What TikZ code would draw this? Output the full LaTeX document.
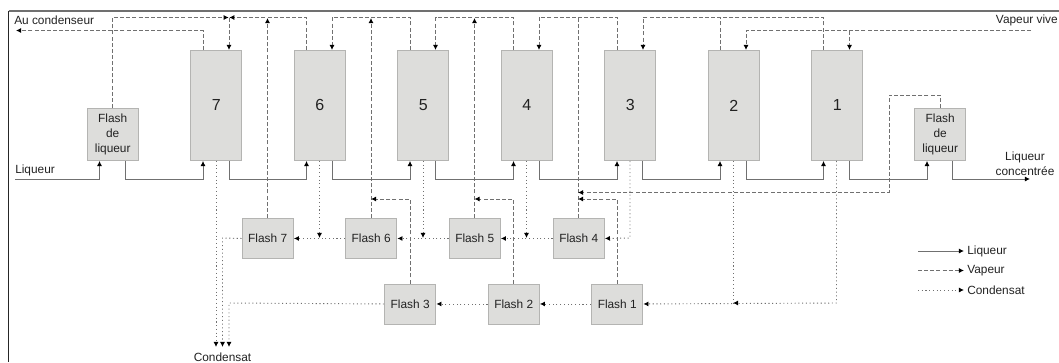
\documentclass[tikz,border=0pt]{standalone}
\usepackage{fontspec}
\setmainfont{Liberation Sans}
\usetikzlibrary{arrows.meta}
\definecolor{boxfill}{HTML}{DDDDDB}
\definecolor{boxline}{HTML}{B4B4B2}
\definecolor{linegray}{HTML}{707070}
\definecolor{txtc}{HTML}{222222}
\tikzset{
 x=0.75pt,y=-0.75pt,
 every node/.style={font=\fontsize{8.9pt}{11pt}\selectfont,text=txtc,inner sep=0pt},
 proc/.style={draw=boxline,fill=boxfill,line width=0.7pt,anchor=north west,align=center},
 effet/.style={proc,minimum width=38.6pt,minimum height=82.5pt,font=\fontsize{12pt}{14pt}\selectfont},
 flashb/.style={proc,minimum width=38.6pt,minimum height=30pt},
 flashl/.style={proc,minimum width=38.6pt,minimum height=39pt},
 tip/.style={-{Latex[length=3.8pt,width=3.8pt,black]}},
 liq/.style={draw=linegray,line width=0.7pt},
 vap/.style={draw=linegray,line width=0.7pt,dash pattern=on 3pt off 1.6pt},
 con/.style={draw=linegray,line width=0.7pt,dash pattern=on 0.8pt off 2pt},
 lbl/.style={anchor=west},
 frameline/.style={draw=linegray,line width=1pt},
 frameleft/.style={draw=black!85,line width=0.9pt},
}
\begin{document}
\begin{tikzpicture}
\useasboundingbox (0,0) rectangle (1059,362);
% frame
\draw[frameline] (1059,11) -- (8.5,11);
\draw[frameleft] (8.5,10.5) -- (8.5,362);

% evaporators
\node[effet] (e7) at (190,50) {7};
\node[effet] (e6) at (293.5,50) {6};
\node[effet] (e5) at (397,50) {5};
\node[effet] (e4) at (500.5,50) {4};
\node[effet] (e3) at (604,50) {3};
\node[effet] (e2) at (707.5,50) {2};
\node[effet] (e1) at (811,50) {1};
% liquor flashes
\node[flashl] (fl) at (86.5,108) {Flash\\de\\liqueur};
\node[flashl] (fr) at (914,108) {Flash\\de\\liqueur};
% flashes
\node[flashb] (f7) at (241.5,218) {Flash 7};
\node[flashb] (f6) at (345,218) {Flash 6};
\node[flashb] (f5) at (448.5,218) {Flash 5};
\node[flashb] (f4) at (552.5,218) {Flash 4};
\node[flashb] (f3) at (384,283.5) {Flash 3};
\node[flashb] (f2) at (487.5,283.5) {Flash 2};
\node[flashb] (f1) at (591,283.5) {Flash 1};

% labels
\node[lbl] (tcond) at (14,20) {Au condenseur};
\node[anchor=east] (tvive) at (1058,20) {Vapeur vive};
\node[lbl] (tliq) at (15,170) {Liqueur};
\node[align=center] (tconc) at (1025,163.5) {Liqueur\\concentrée};
\node[anchor=center] (tcs) at (222.5,357) {Condensat};

% free-end coordinates
\coordinate (liqin) at (15,179);
\coordinate (liqout) at (1030,179);
\coordinate (vivein) at (1031,30.5);
\coordinate (condout) at (16,30.5);

% liqueur
\path[liq,tip] (liqin) -- (99.5,179) -- (fl.south -| 99.5,0);
\path[liq,tip] (fl.south -| 125.5,0) -- (125.5,179) -- (203,179) -- (e7.south -| 203,0);
\path[liq,tip] (e7.south -| 229,0) -- (229,179) -- (306.5,179) -- (e6.south -| 306.5,0);
\path[liq,tip] (e6.south -| 332,0) -- (332,179) -- (410,179) -- (e5.south -| 410,0);
\path[liq,tip] (e5.south -| 435.5,0) -- (435.5,179) -- (513.5,179) -- (e4.south -| 513.5,0);
\path[liq,tip] (e4.south -| 539,0) -- (539,179) -- (617,179) -- (e3.south -| 617,0);
\path[liq,tip] (e3.south -| 642.5,0) -- (642.5,179) -- (720,179) -- (e2.south -| 720,0);
\path[liq,tip] (e2.south -| 746,0) -- (746,179) -- (823.5,179) -- (e1.south -| 823.5,0);
\path[liq,tip] (e1.south -| 849.5,0) -- (849.5,179) -- (927,179) -- (fr.south -| 927,0);
\path[liq,tip] (fr.south -| 952.5,0) -- (952.5,179) -- (liqout);

% vapeur, top
\path[vap,tip] (fl.north -| 112.5,0) -- (112.5,17.5) -- (228.7,17.5);
\path[vap,tip] (e6.north -| 306.5,0) -- (306.5,17.5) -- (229.3,17.5);
\path[vap,tip] (229,17.5) -- (e7.north -| 229,0);
\path[vap,tip] (e7.north -| 203,0) -- (203,30.5) -- (condout);
\path[vap,tip] (f7.north -| 267.5,0) -- (267.5,18);
\path[vap,tip] (e5.north -| 410,0) -- (410,17.5) -- (332,17.5) -- (e6.north -| 332,0);
\path[vap,tip] (f6.north -| 371,0) -- (371,18);
\path[vap,tip] (e4.north -| 513.5,0) -- (513.5,17.5) -- (435.5,17.5) -- (e5.north -| 435.5,0);
\path[vap,tip] (f5.north -| 474.5,0) -- (474.5,18);
\path[vap,tip] (e3.north -| 617,0) -- (617,17.5) -- (539,17.5) -- (e4.north -| 539,0);
\path[vap] (f4.north -| 578,0) -- (578,17.5);
\path[vap,tip] (e1.north -| 823.5,0) -- (823.5,17.5) -- (643,17.5) -- (e3.north -| 643,0);
\path[vap] (e2.north -| 720,0) -- (720,17.5);
\path[vap,tip] (vivein) -- (746,30.5) -- (e2.north -| 746,0);
\path[vap,tip] (849.5,30.5) -- (e1.north -| 849.5,0);

% vapeur, middle
\path[vap,tip] (fr.north -| 940,0) -- (940,95) -- (889,95) -- (889,192.5) -- (578,192.5);
\path[vap,tip] (f1.north -| 617,0) -- (617,199) -- (578,199);
\path[vap,tip] (f2.north -| 513.5,0) -- (513.5,199) -- (474.5,199);
\path[vap,tip] (f3.north -| 410,0) -- (410,199) -- (371,199);

% condensat
\path[con,tip] (e7.south -| 216,0) -- (216,347);
\path[con,tip] (f7.west) -- (222.5,238) -- (222.5,347);
\path[con,tip] (f3.west) -- (229,303) -- (229,347);
\path[con,tip] (f6.west) -- (f7.east);
\path[con,tip] (f5.west) -- (f6.east);
\path[con,tip] (f4.west) -- (f5.east);
\path[con,tip] (e6.south -| 319.5,0) -- (319.5,238);
\path[con,tip] (e5.south -| 423,0) -- (423,238);
\path[con,tip] (e4.south -| 526.5,0) -- (526.5,238);
\path[con,tip] (e3.south -| 630,0) -- (630,238) -- (f4.east);
\path[con,tip] (f2.west) -- (f3.east);
\path[con,tip] (f1.west) -- (f2.east);
\path[con,tip] (e1.south -| 836.5,0) -- (836.5,303) -- (f1.east);
\path[con] (e2.south -| 733,0) -- (733,303);
\path[con,tip] (737,303) -- (733,303);

% legend
\coordinate (l1a) at (918,251); \coordinate (l1b) at (964,251);
\coordinate (l2a) at (918,270.5); \coordinate (l2b) at (964,270.5);
\coordinate (l3a) at (918,290); \coordinate (l3b) at (964,290);
\path[liq,tip] (l1a) -- (l1b);
\path[vap,tip] (l2a) -- (l2b);
\path[con,tip] (l3a) -- (l3b);
\node[lbl] (t1) at (967,251) {Liqueur};
\node[lbl] (t2) at (967,270.5) {Vapeur};
\node[lbl] (t3) at (967,290) {Condensat};
\end{tikzpicture}
\end{document}
